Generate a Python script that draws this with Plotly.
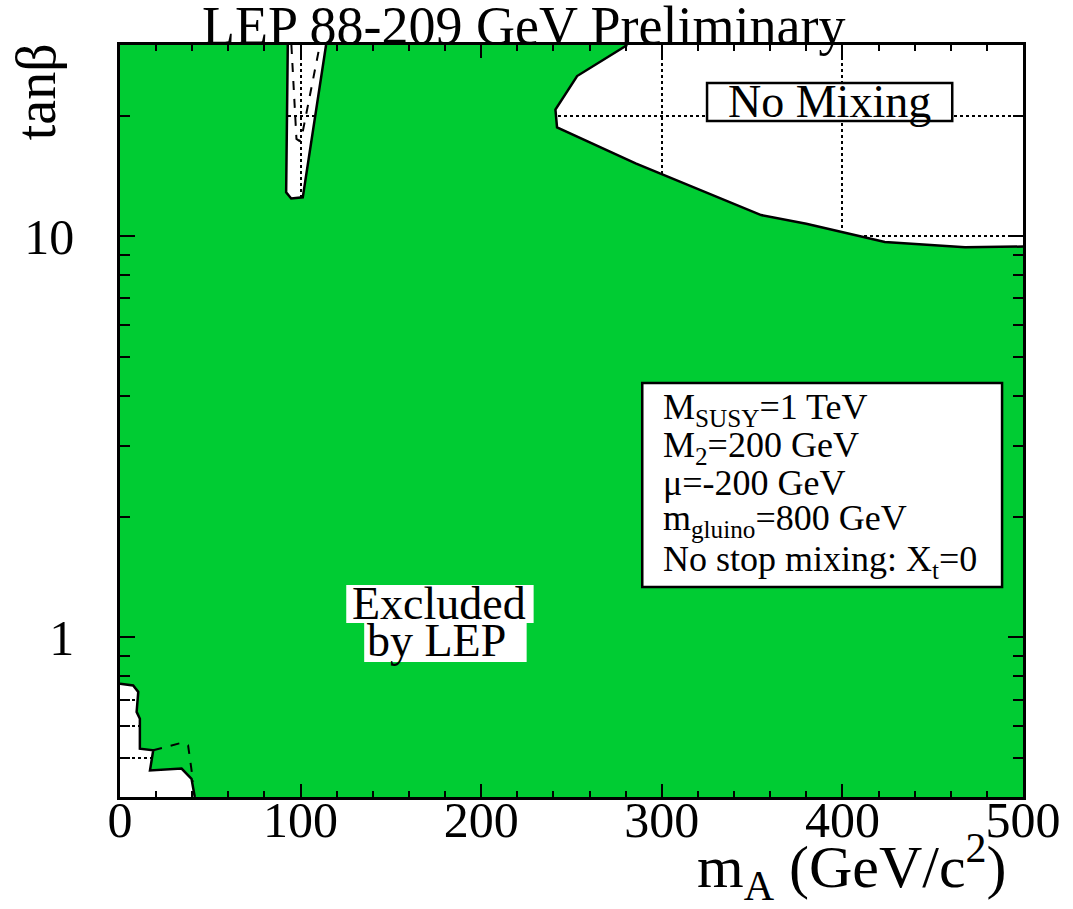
import math
import plotly.graph_objects as go

# ---------------- data ----------------
X_RANGE = [0, 500]          # m_A (GeV/c^2)
TANB_RANGE = [0.4, 30]      # tan(beta)

# boundary of the allowed "No Mixing" region (top right)
nomix_x = [500, 467.9, 423.5, 380.0, 355.0, 285.5, 242.0, 241.1, 253.1, 280.9]
nomix_y = [9.43, 9.40, 9.68, 10.75, 11.3, 15.2, 18.7, 20.7, 25.1, 30]

# narrow allowed spike near m_A ~ 100
spike_x = [114.1, 101.2, 94.8, 92.0, 92.9]
spike_y = [30, 12.51, 12.43, 12.87, 30]

# allowed corner at low m_A, low tan(beta)
lowleft_x = [0, 7.3, 10.1, 9.2, 11.0, 11.0, 18.4, 16.6, 34.1, 39.6, 41.4]
lowleft_y = [0.766, 0.759, 0.731, 0.652, 0.627, 0.528, 0.523, 0.466, 0.471, 0.444, 0.4]

# dashed (expected) contours
spike_dash_x = [94.9, 97.7, 99.3, 100.4, 110.4, 110.9]
spike_dash_y = [30, 17.5, 17.3, 17.5, 29.6, 30]
lowleft_dash_x = [18.4, 34.1, 37.7, 39.6, 40.5]
lowleft_dash_y = [0.523, 0.546, 0.538, 0.471, 0.437]

x_major_ticks = [0, 100, 200, 300, 400, 500]
x_minor_ticks = [v for v in range(0, 501, 20)]
y_major_ticks = [1, 10]
y_major_labels = ["1", "10"]
y_minor_ticks = [0.4, 0.5, 0.6, 0.7, 0.8, 0.9, 2, 3, 4, 5, 6, 7, 8, 9, 20, 30]

param_lines = [
    "M<sub>SUSY</sub>=1 TeV",
    "M<sub>2</sub>=200 GeV",
    "\u03bc=-200 GeV",
    "m<sub>gluino</sub>=800 GeV",
    "No stop mixing: X<sub>t</sub>=0",
]

GREEN = "#00CC33"
FONT = "Liberation Serif"

# ---------------- excluded region polygon ----------------
poly_x = ([lowleft_x[-1], X_RANGE[1]] + nomix_x + spike_x + [X_RANGE[0]] + lowleft_x)
poly_y = ([TANB_RANGE[0], TANB_RANGE[0]] + nomix_y + spike_y + [TANB_RANGE[1]] + lowleft_y)

fig = go.Figure()
fig.add_trace(go.Scatter(x=poly_x, y=poly_y, fill="toself", fillcolor=GREEN,
                         mode="lines", line=dict(width=0), hoverinfo="skip",
                         showlegend=False))
for xs, ys in [(nomix_x, nomix_y), (spike_x, spike_y), (lowleft_x, lowleft_y)]:
    fig.add_trace(go.Scatter(x=xs, y=ys, mode="lines",
                             line=dict(color="black", width=2.5),
                             showlegend=False, hoverinfo="skip"))
for xs, ys in [(spike_dash_x, spike_dash_y), (lowleft_dash_x, lowleft_dash_y)]:
    fig.add_trace(go.Scatter(x=xs, y=ys, mode="lines",
                             line=dict(color="black", width=2, dash="dash"),
                             showlegend=False, hoverinfo="skip"))

# ---------------- axes ----------------
fig.update_xaxes(
    range=X_RANGE, tickvals=x_major_ticks, ticks="inside", ticklen=13, tickwidth=2,
    tickcolor="black", showline=True, linecolor="black", linewidth=2.5, mirror="ticks",
    showgrid=True, gridcolor="black", griddash="dot", gridwidth=1.5,
    zeroline=False, tickfont=dict(family=FONT, size=50, color="black"),
    ticklabelstandoff=-23,
    minor=dict(tickvals=x_minor_ticks, ticks="inside", ticklen=6, tickwidth=2,
               tickcolor="black", showgrid=False),
)
fig.update_yaxes(
    type="log", range=[math.log10(TANB_RANGE[0]), math.log10(TANB_RANGE[1])],
    tickvals=y_major_ticks, ticktext=y_major_labels, ticks="inside", ticklen=15,
    tickwidth=2, tickcolor="black", showline=True, linecolor="black", linewidth=2.5,
    mirror="ticks", showgrid=True, gridcolor="black", griddash="dot", gridwidth=1.5,
    zeroline=False, tickfont=dict(family=FONT, size=50, color="black"),
    ticklabelstandoff=33,
    minor=dict(tickvals=y_minor_ticks, ticks="inside", ticklen=10, tickwidth=2,
               tickcolor="black", showgrid=True, gridcolor="black", griddash="dot",
               gridwidth=1.5),
)

W, H = 1073, 909
L, R, T, B = 120, 47, 45, 112
PW, PH = W - L - R, H - T - B

def px(x):
    return (x - L) / PW

def py(y):
    return (H - B - y) / PH

shapes = [
    # parameter box
    dict(type="rect", xref="paper", yref="paper", x0=px(644), x1=px(1005),
         y0=py(587), y1=py(383), fillcolor="white", line=dict(color="black", width=2.5)),
    # No Mixing box
    dict(type="rect", xref="paper", yref="paper", x0=px(709), x1=px(955),
         y0=py(121), y1=py(83), fillcolor="white", line=dict(color="black", width=2.5)),
    # Excluded by LEP boxes
    dict(type="rect", xref="paper", yref="paper", x0=px(347), x1=px(535),
         y0=py(623), y1=py(585), fillcolor="white", line=dict(width=0)),
    dict(type="rect", xref="paper", yref="paper", x0=px(365), x1=px(528),
         y0=py(662), y1=py(623), fillcolor="white", line=dict(width=0)),
]

ann = []
def text(s, x, y, size, xanchor="center", angle=0):
    ann.append(dict(text=s, x=px(x), y=py(y), xref="paper", yref="paper",
                    xanchor=xanchor, yanchor="middle", showarrow=False,
                    textangle=angle, font=dict(family=FONT, size=size, color="black")))

text("LEP 88-209 GeV Preliminary", 525, 26, 54)
text("tan\u03b2", 36, 92, 56, angle=-90)
text("m<sub>A</sub> (GeV/c<sup>2</sup>)", 854, 867, 60)
text("No Mixing", 832, 101, 46)
text("Excluded", 440, 603, 46)
text("by LEP", 438, 640, 46)
baselines = [420.7, 459, 494, 531.7, 572.7]
for s, b in zip(param_lines, baselines):
    text(s, 663, b - 11, 36, xanchor="left")

fig.update_layout(
    width=W, height=H, autosize=False,
    margin=dict(l=L, r=R, t=T, b=B, pad=0),
    plot_bgcolor="white", paper_bgcolor="white",
    shapes=shapes, annotations=ann, showlegend=False,
)

fig.write_html("out.html")
